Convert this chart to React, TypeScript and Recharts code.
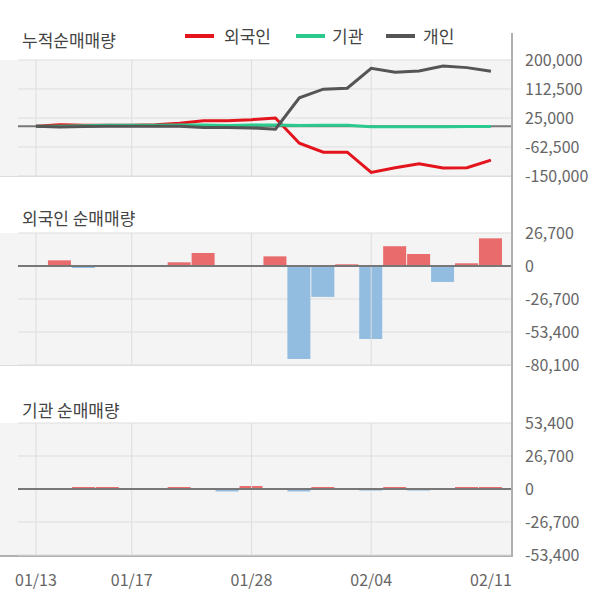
import React from "react";
import {
  ComposedChart,
  Line,
  Bar,
  Cell,
  XAxis,
  YAxis,
  CartesianGrid,
  ReferenceLine,
} from "recharts";

const dates = [
  "01/13", "01/14", "01/15", "01/16", "01/17", "01/20", "01/21", "01/22", "01/23", "01/28",
  "01/29", "01/30", "01/31", "02/03", "02/04", "02/05", "02/06", "02/07", "02/10", "02/11",
];

const foreignCum = [0, 5000, 3500, 3500, 3500, 4500, 9000, 17000, 17000, 20000, 25000, -51000, -78000, -78000, -139000, -125000, -113000, -126000, -125000, -102000];
const instCum = [0, 0, 1500, 3000, 3000, 3000, 4000, 4000, 2500, 4000, 4000, 2500, 3000, 3000, -1500, -1500, -1500, -1500, -1000, -1000];
const indivCum = [0, -2000, -1000, 0, 0, 0, 0, -4000, -4000, -5000, -9000, 86000, 112000, 115000, 175000, 163000, 167000, 182000, 177000, 166000];

const foreignDaily = [0, 4600, -1600, 0, 0, 0, 3000, 10500, 0, 0, 7800, -75300, -25000, 1400, -59000, 16000, 9700, -12900, 2200, 22400];
const instDaily = [0, 0, 1600, 1600, 0, 0, 1600, 0, -2000, 2400, 0, -2000, 1600, 0, -1300, 1600, -1300, 0, 1600, 1600];

const cumTicks = [200000, 112500, 25000, -62500, -150000];
const foreignTicks = [26700, 0, -26700, -53400, -80100];
const instTicks = [53400, 26700, 0, -26700, -53400];
const xTickIdx = [0, 4, 9, 14, 19];
const gridIdx = [0, 4, 9, 14];

const data = dates.map((d, i) => ({
  i,
  date: d,
  foreignCum: foreignCum[i],
  instCum: instCum[i],
  indivCum: indivCum[i],
  foreignDaily: foreignDaily[i],
  instDaily: instDaily[i],
}));

const FONT = '"Noto Sans CJK KR", "Noto Sans", sans-serif';
const RED = "#e3141c";
const GREEN = "#2bc98d";
const GRAY = "#555555";
const BAR_RED = "#e96b6b";
const BAR_BLUE = "#92bde0";
const GRID = "#dddddd";
const ZERO = "#777777";
const TICK = { fill: "#666", fontSize: 16, fontFamily: FONT };
const X_DOMAIN: [number, number] = [-0.75, 19.88];
const fmt = (v: number) => v.toLocaleString("en-US");

const commonMargin = { left: 18, right: 8 };

function VGrid() {
  return null;
}

function Panel(props: {
  top: number;
  height: number;
  mTop: number;
  mBottom: number;
  domain: [number, number];
  ticks: number[];
  showX?: boolean;
  children: React.ReactNode;
}) {
  const { top, height, mTop, mBottom, domain, ticks, showX, children } = props;
  return (
    <div style={{ position: "absolute", left: 0, top, width: 600, height }}>
      <ComposedChart
        width={600}
        height={height}
        data={data}
        margin={{ top: mTop, bottom: mBottom, ...commonMargin }}
      >
        <CartesianGrid vertical={false} stroke={GRID} horizontalValues={ticks} />
        <XAxis
          type="number"
          dataKey="i"
          domain={X_DOMAIN}
          allowDataOverflow
          ticks={xTickIdx}
          tickFormatter={(v: number) => dates[v]}
          hide={!showX}
          axisLine={false}
          tickLine={false}
          tick={TICK}
          tickMargin={14}
          height={30}
        />
        <YAxis
          orientation="right"
          domain={domain}
          ticks={ticks}
          allowDataOverflow
          interval={0}
          width={80}
          axisLine={false}
          tickLine={false}
          tickMargin={7}
          tick={{ ...TICK, textAnchor: "start" }}
          tickFormatter={fmt}
        />
        {gridIdx.map((g) => (
          <ReferenceLine key={g} x={g} stroke={GRID} strokeWidth={1} />
        ))}
        <ReferenceLine y={0} stroke={ZERO} strokeWidth={2} />
        {children}
      </ComposedChart>
    </div>
  );
}

export default function App() {
  const bg = (top: number, h: number, border: string) => (
    <div
      style={{
        position: "absolute",
        left: 0,
        top,
        width: 512,
        height: h,
        background: "#f4f4f4",
        borderBottom: border,
        boxSizing: "border-box",
      }}
    />
  );
  const title = (text: string, top: number) => (
    <div
      style={{
        position: "absolute",
        left: 22,
        top,
        fontSize: 17,
        color: "#444",
        fontFamily: FONT,
        lineHeight: "20px",
        whiteSpace: "nowrap",
      }}
    >
      {text}
    </div>
  );
  const legendItem = (color: string, label: string, sx: number, tx: number) => (
    <React.Fragment key={label}>
      <div
        style={{
          position: "absolute",
          left: sx,
          top: 34,
          width: 29,
          height: 4,
          background: color,
        }}
      />
      <div
        style={{
          position: "absolute",
          left: tx,
          top: 26,
          fontSize: 17,
          color: "#444",
          fontFamily: FONT,
          lineHeight: "20px",
          whiteSpace: "nowrap",
        }}
      >
        {label}
      </div>
    </React.Fragment>
  );

  return (
    <div
      style={{
        position: "absolute",
        left: 0,
        top: 0,
        width: 600,
        height: 604,
        background: "#fff",
        overflow: "hidden",
      }}
    >
      {bg(60, 117, "1px solid #dddddd")}
      {bg(233, 133, "1px solid #dddddd")}
      {bg(423, 134, "2px solid #b0b0b0")}

      <Panel top={0} height={200} mTop={60} mBottom={24} domain={[-150000, 200000]} ticks={cumTicks}>
        <Line type="linear" dataKey="foreignCum" stroke={RED} strokeWidth={3} dot={false} isAnimationActive={false} />
        <Line type="linear" dataKey="instCum" stroke={GREEN} strokeWidth={3} dot={false} isAnimationActive={false} />
        <Line type="linear" dataKey="indivCum" stroke={GRAY} strokeWidth={3} dot={false} isAnimationActive={false} />
      </Panel>

      <Panel top={200} height={180} mTop={33} mBottom={15} domain={[-80100, 26700]} ticks={foreignTicks}>
        <Bar dataKey="foreignDaily" barSize={23} isAnimationActive={false}>
          {foreignDaily.map((v, k) => (
            <Cell key={k} fill={v >= 0 ? BAR_RED : BAR_BLUE} />
          ))}
        </Bar>
      </Panel>

      <Panel top={390} height={214} mTop={33} mBottom={19} domain={[-53400, 53400]} ticks={instTicks} showX>
        <Bar dataKey="instDaily" barSize={23} isAnimationActive={false}>
          {instDaily.map((v, k) => (
            <Cell key={k} fill={v >= 0 ? BAR_RED : BAR_BLUE} />
          ))}
        </Bar>
      </Panel>

      <div style={{ position: "absolute", left: 511, top: 33, width: 2, height: 524, background: "#b0b0b0" }} />

      {title("누적순매매량", 30)}
      {title("외국인 순매매량", 208)}
      {title("기관 순매매량", 400)}

      {legendItem(RED, "외국인", 185, 224)}
      {legendItem(GREEN, "기관", 296, 332)}
      {legendItem(GRAY, "개인", 386, 423)}
    </div>
  );
}
